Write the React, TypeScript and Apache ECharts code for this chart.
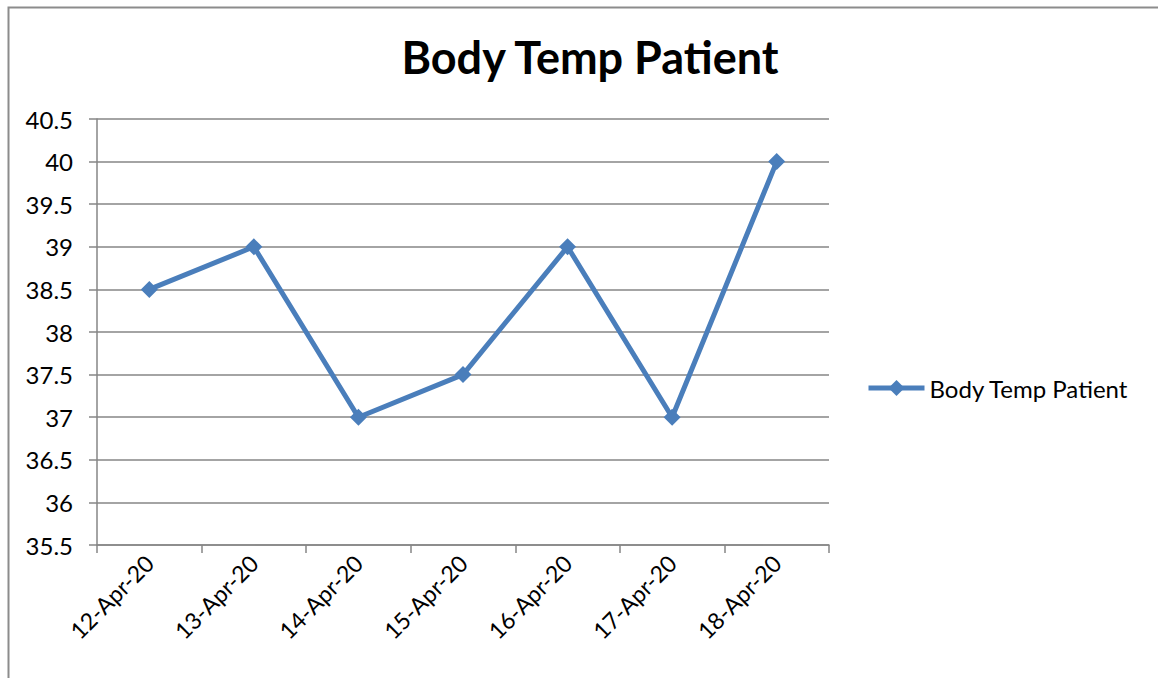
import React, { useEffect, useRef } from "react";
import * as echarts from "echarts";

const categories = ["12-Apr-20", "13-Apr-20", "14-Apr-20", "15-Apr-20", "16-Apr-20", "17-Apr-20", "18-Apr-20"];
const temps = [38.5, 39, 37, 37.5, 39, 37, 40];
const seriesName = "Body Temp Patient";
const titleText = "Body Temp Patient";

export default function App() {
  const ref = useRef<HTMLDivElement>(null);
  useEffect(() => {
    document.body.style.margin = "0";
    const chart = echarts.init(ref.current!, null, { renderer: "svg" });
    const font = "Lato, 'Open Sans', sans-serif";
    chart.setOption({
      animation: false,
      backgroundColor: "#fff",
      title: {
        text: titleText,
        left: 585,
        textAlign: "center",
        top: 29,
        textStyle: { fontFamily: font, fontSize: 45, fontWeight: "bold", color: "#000" },
      },
      graphic: [
        {
          type: "rect",
          shape: { x: 8.5, y: 7.5, width: 1200, height: 720 },
          style: { fill: "none", stroke: "#8c8c8c", lineWidth: 2 },
          silent: true,
        },
      ],
      legend: {
        left: 861,
        top: 371,
        itemWidth: 56,
        itemHeight: 20,
        itemGap: 6,
        lineStyle: { width: 5 },
        textStyle: { fontFamily: font, fontSize: 24, color: "#000" },
        data: [{ name: seriesName }],
      },
      grid: { left: 97, right: 329, top: 119, bottom: 133, containLabel: false },
      xAxis: {
        type: "category",
        data: categories,
        boundaryGap: true,
        axisLine: { lineStyle: { color: "#868686", width: 1.5 } },
        axisTick: { show: true, length: 8, alignWithLabel: false, lineStyle: { color: "#868686", width: 1.5 } },
        axisLabel: { rotate: 45, margin: 14, fontFamily: font, fontSize: 23, color: "#000", interval: 0 },
      },
      yAxis: {
        type: "value",
        min: 35.5,
        max: 40.5,
        interval: 0.5,
        axisLine: { show: true, lineStyle: { color: "#868686", width: 1.5 } },
        axisTick: { show: true, length: 8, lineStyle: { color: "#868686", width: 1.5 } },
        splitLine: { lineStyle: { color: "#868686", width: 1.5 } },
        axisLabel: { margin: 24, fontFamily: font, fontSize: 24, color: "#000" },
      },
      series: [
        {
          name: seriesName,
          type: "line",
          data: temps,
          symbol: "diamond",
          symbolSize: 17,
          lineStyle: { color: "#4A7EBB", width: 5 },
          itemStyle: { color: "#4A7EBB" },
        },
      ],
    });
    return () => chart.dispose();
  }, []);
  return <div ref={ref} style={{ width: 1158, height: 678, position: "absolute", left: 0, top: 0 }} />;
}
